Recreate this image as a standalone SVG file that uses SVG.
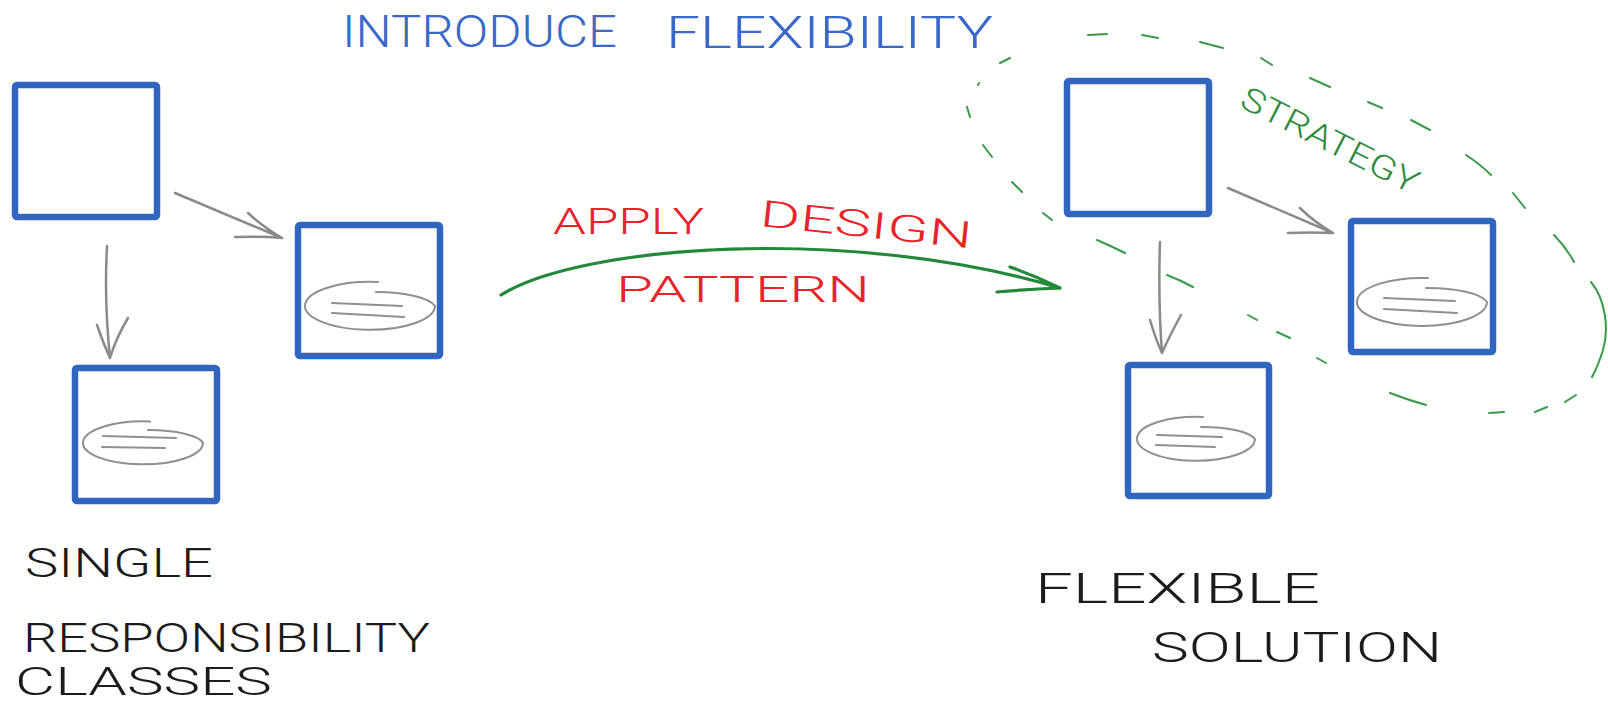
<svg xmlns="http://www.w3.org/2000/svg" width="1608" height="701" viewBox="0 0 1608 701">
  <style>
    .box { fill: #ffffff; stroke: #3065c0; stroke-width: 6.5; }
    .ell { fill: none; stroke: #8f8f8f; stroke-width: 2; stroke-linecap: round; }
    .conn { fill: none; stroke: #8a8a8a; stroke-width: 2.5; stroke-linecap: round; stroke-linejoin: round; }
    .flow { fill: none; stroke: #22883a; stroke-width: 3.2; stroke-linecap: round; stroke-linejoin: round; }
    .group { fill: none; stroke: #3a9a4c; stroke-width: 2; stroke-linecap: round; }
    .hand { font-family: Roboto, "Liberation Sans", Arial, sans-serif; font-weight: 300; }
    .title { fill: #3a68c8; font-size: 44px; }
    .step { fill: #e8232a; font-size: 37px; }
    .note { fill: #1b1b1b; font-size: 40px; }
    .tag { fill: #2e8b3e; font-size: 33px; }
  </style>

  <!-- heading -->
  <text class="hand title" x="342" y="47"><tspan x="342" textLength="275" lengthAdjust="spacingAndGlyphs">INTRODUCE</tspan><tspan x="666" y="48" textLength="327" lengthAdjust="spacingAndGlyphs">FLEXIBILITY</tspan></text>

  <!-- left side: single responsibility classes -->
  <g id="class-left-root">
    <rect class="box" x="15" y="85" width="142" height="132" rx="2"/>
  </g>
  <g id="class-left-b">
    <rect class="box" x="298" y="225" width="142" height="131" rx="2"/>
    <path class="ell" d="M378,282 A65,24 0 1,0 435,306 A60,17 0 0,0 376,292"/>
    <path class="ell" d="M332,303 L402,306 M332,313 L404,317"/>
  </g>
  <g id="class-left-c">
    <rect class="box" x="75" y="368" width="142" height="133" rx="2"/>
    <path class="ell" d="M150,421.5 A60,21.5 0 1,0 203,443 A55,15 0 0,0 148,430"/>
    <path class="ell" d="M103,436 L176,438 M102,447 L165,448"/>
  </g>

  <!-- right side: flexible solution -->
  <g id="class-right-root">
    <rect class="box" x="1067" y="81" width="142" height="133" rx="2"/>
  </g>
  <g id="class-right-e">
    <rect class="box" x="1351" y="221" width="142" height="131" rx="2"/>
    <path class="ell" d="M1428,278 A65,24 0 1,0 1487,302 A60,17 0 0,0 1426,288"/>
    <path class="ell" d="M1384,298 L1455,301 M1384,309 L1457,313"/>
  </g>
  <g id="class-right-f">
    <rect class="box" x="1128" y="365" width="141" height="131" rx="2"/>
    <path class="ell" d="M1203,417 A59,22 0 1,0 1255,439 A54,15 0 0,0 1201,427"/>
    <path class="ell" d="M1157,435 L1222,437 M1156,445 L1215,447"/>
  </g>

  <!-- dashed strategy boundary -->
  <g id="strategy-group">
    <path class="group" d="
      M1000,63 L1010,58
      M1088,35 L1107,34
      M1142,35 L1158,38
      M1200,42 L1223,48
      M1261,58 L1272,65
      M1310,78 L1330,87
      M1368,102 L1382,108
      M1411,120 L1430,130
      M1466,155 Q1480,164 1491,175
      M1513,193 L1525,208
      M1554,235 Q1566,247 1574,262
      M1591,282 C1606,300 1609,330 1603,350 Q1598,366 1592,377
      M1576,395 L1565,402
      M1547,407 L1535,412
      M1504,412 L1489,413
      M1426,405 Q1408,400 1390,393
      M1326,363 L1317,358
      M1290,338 L1277,332
      M1257,320 L1248,315
      M1193,287 Q1180,280 1167,275
      M1125,253 Q1111,246 1097,240
      M1052,220 L1043,213
      M1022,192 L1012,182
      M992,157 L983,145
      M970,117 L967,107
      M978,85 L979,83"/>
    <text class="hand tag" x="1238" y="106" transform="rotate(27 1238 106)" textLength="195" lengthAdjust="spacingAndGlyphs">STRATEGY</text>
  </g>

  <!-- connectors -->
  <g id="connectors">
    <path class="conn" d="M175,193 L282,238 M248,213 Q262,226 282,238 M235,237 Q262,236 282,238"/>
    <path class="conn" d="M107,246 Q104,300 110,358 M97,325 Q104,345 110,358 M128,318 Q116,338 110,358"/>
    <path class="conn" d="M1228,188 L1333,233 M1300,208 Q1314,222 1333,233 M1288,233 Q1312,232 1333,233"/>
    <path class="conn" d="M1160,242 Q1158,300 1162,353 M1150,320 Q1156,340 1162,353 M1181,315 Q1170,335 1162,353"/>
    <path class="flow" d="M501,295 C580,245 850,225 1060,288 M1010,267 Q1036,276 1060,288 M997,292 Q1030,289 1060,288"/>
  </g>

  <!-- transformation label -->
  <g id="apply-label">
    <text class="hand step" x="553" y="234" textLength="151" lengthAdjust="spacingAndGlyphs">APPLY</text>
    <text class="hand step" x="759" y="226" transform="rotate(6 759 226)" textLength="213" lengthAdjust="spacingAndGlyphs">DESIGN</text>
    <text class="hand step" x="616" y="302" textLength="254" lengthAdjust="spacingAndGlyphs">PATTERN</text>
  </g>

  <!-- captions -->
  <g id="caption-left">
    <text class="hand note" x="25" y="577" textLength="188" lengthAdjust="spacingAndGlyphs">SINGLE</text>
    <text class="hand note" x="23" y="652" textLength="407" lengthAdjust="spacingAndGlyphs">RESPONSIBILITY</text>
    <text class="hand note" x="15" y="695" style="font-size:38px" textLength="257" lengthAdjust="spacingAndGlyphs">CLASSES</text>
  </g>
  <g id="caption-right">
    <text class="hand note" x="1035" y="603" style="font-size:42px" textLength="285" lengthAdjust="spacingAndGlyphs">FLEXIBLE</text>
    <text class="hand note" x="1152" y="662" style="font-size:42px" textLength="290" lengthAdjust="spacingAndGlyphs">SOLUTION</text>
  </g>
</svg>
